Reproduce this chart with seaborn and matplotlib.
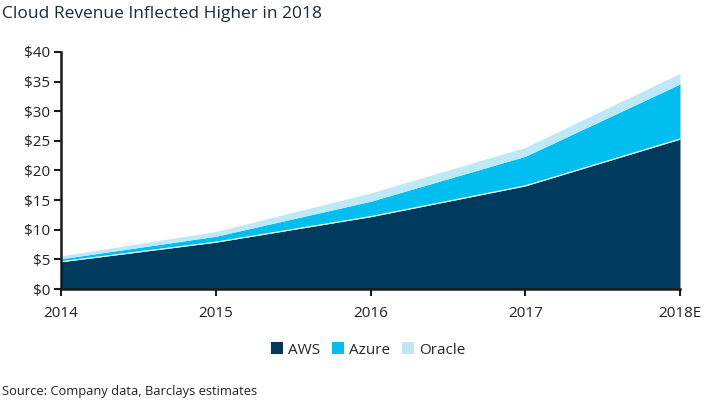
import numpy as np
import pandas as pd
import matplotlib.pyplot as plt
import seaborn as sns

years = ["2014", "2015", "2016", "2017", "2018E"]
aws = [4.6, 7.9, 12.2, 17.4, 25.3]
azure = [0.5, 1.0, 2.6, 5.0, 9.3]
oracle = [0.5, 0.8, 1.4, 1.5, 1.8]
colors = ["#003a5d", "#00bff0", "#bfe8f7"]
names = ["AWS", "Azure", "Oracle"]

df = pd.DataFrame({"year": years, "AWS": aws, "Azure": azure, "Oracle": oracle})

sns.set_theme(style="ticks")
plt.rcParams["font.family"] = ["Open Sans", "DejaVu Sans"]

fig = plt.figure(figsize=(7.08, 4.01), dpi=100)
ax = fig.add_axes([61 / 708, 1 - 289 / 401, 619 / 708, 237 / 401])

x = np.arange(len(df))
polys = ax.stackplot(x, df["AWS"], df["Azure"], df["Oracle"], colors=colors,
                     labels=names, linewidth=0)
ax.plot(x, df["AWS"], color="white", linewidth=0.8)

ax.set_xlim(0, len(df) - 1)
ax.set_ylim(0, 40)
ax.set_yticks(range(0, 41, 5))
ax.set_yticklabels([f"${v}" for v in range(0, 41, 5)], fontsize=11, color="#222222")
ax.set_xticks(x)
ax.set_xticklabels(df["year"], fontsize=11, color="#222222")
for s in ["top", "right"]:
    ax.spines[s].set_visible(False)
for s in ["left", "bottom"]:
    ax.spines[s].set_linewidth(1.8)
    ax.spines[s].set_color("#1a1a1a")
ax.tick_params(axis="both", direction="out", length=5, width=1.5, color="#1a1a1a", pad=3)
ax.tick_params(axis="x", pad=7)
ax.grid(False)

fig.text(2 / 708, 1 - 14 / 401, "Cloud Revenue Inflected Higher in 2018",
         fontsize=12.5, color="#1a2a3a", va="center", ha="left")
fig.text(2 / 708, 1 - 392 / 401, "Source: Company data, Barclays estimates",
         fontsize=9.3, color="#222222", va="center", ha="left")

fig.legend(handles=polys, labels=names, loc="center", bbox_to_anchor=(368 / 708, 1 - 350 / 401),
           ncol=3, frameon=False, fontsize=11, handlelength=0.8, handleheight=0.8,
           handletextpad=0.3, columnspacing=0.8)

fig.savefig("out.png", dpi=100)
